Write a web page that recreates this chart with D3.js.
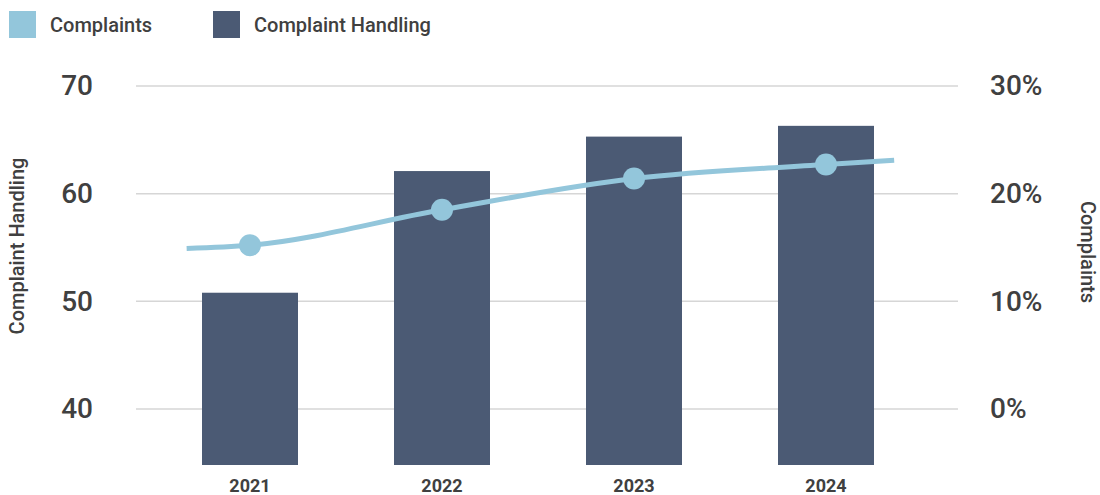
<!DOCTYPE html>
<html>
<head>
<meta charset="utf-8">
<script src="https://cdn.jsdelivr.net/npm/d3@7"></script>
<style>
  body { margin: 0; background: #fff; }
  svg text { font-family: Roboto, "Noto Sans", sans-serif; fill: #404040; }
</style>
</head>
<body>
<div id="chart"></div>
<script>
  const years = ["2021", "2022", "2023", "2024"];
  const handling = [50.8, 62.1, 65.3, 66.3];
  const complaints = [15.2, 18.5, 21.4, 22.7];
  // the line runs a bit past the first and last points
  const complaintsStart = 14.9;
  const complaintsEnd = 23.1;
  const leftTicks = [40, 50, 60, 70];
  const rightTicks = [0, 10, 20, 30];

  const width = 1100, height = 495;
  const barColor = "#4b5a74", lineColor = "#93c6db";

  const svg = d3.select("#chart").append("svg")
    .attr("width", width)
    .attr("height", height);

  const x = d3.scaleBand()
    .domain(years)
    .range([154, 922])
    .paddingInner(0.5)
    .paddingOuter(0.25);

  const yLeft = d3.scaleLinear().domain([34.8, 70]).range([465, 86]);
  const yRight = d3.scaleLinear().domain([0, 30]).range([409, 86]);

  // gridlines
  svg.append("g")
    .selectAll("line")
    .data(leftTicks)
    .join("line")
    .attr("x1", 136).attr("x2", 958)
    .attr("y1", d => yLeft(d)).attr("y2", d => yLeft(d))
    .attr("stroke", "#d6d6d6")
    .attr("stroke-width", 1.5);

  // left axis
  const leftAxis = svg.append("g")
    .attr("transform", "translate(136,0)")
    .call(d3.axisLeft(yLeft).tickValues(leftTicks).tickSize(0).tickPadding(43));
  leftAxis.select(".domain").remove();
  leftAxis.selectAll("text")
    .style("font-size", "28px").style("font-weight", 500).attr("fill", "#404040");

  // right axis
  const rightAxis = svg.append("g")
    .attr("transform", "translate(958,0)")
    .call(d3.axisRight(yRight).tickValues(rightTicks).tickSize(0).tickPadding(32)
      .tickFormat(d => d + "%"));
  rightAxis.select(".domain").remove();
  rightAxis.selectAll("text")
    .style("font-size", "28px").style("font-weight", 500).attr("fill", "#404040");

  // bars
  svg.append("g")
    .selectAll("rect")
    .data(handling)
    .join("rect")
    .attr("x", (d, i) => x(years[i]))
    .attr("width", x.bandwidth())
    .attr("y", d => yLeft(d))
    .attr("height", d => yLeft.range()[0] - yLeft(d))
    .attr("fill", barColor);

  // x labels
  svg.append("g")
    .selectAll("text")
    .data(years)
    .join("text")
    .attr("x", d => x(d) + x.bandwidth() / 2)
    .attr("y", 492)
    .attr("text-anchor", "middle")
    .style("font-size", "18px")
    .style("font-weight", 700)
    .text(d => d);

  // line
  const step = x.step();
  const cx = i => x(years[i]) + x.bandwidth() / 2;
  const linePts = [[cx(0) - step * 0.33, complaintsStart]]
    .concat(complaints.map((d, i) => [cx(i), d]))
    .concat([[cx(complaints.length - 1) + step * 0.355, complaintsEnd]]);

  svg.append("path")
    .datum(linePts)
    .attr("fill", "none")
    .attr("stroke", lineColor)
    .attr("stroke-width", 5)
    .attr("d", d3.line().x(d => d[0]).y(d => yRight(d[1])).curve(d3.curveMonotoneX));

  svg.append("g")
    .selectAll("circle")
    .data(complaints)
    .join("circle")
    .attr("cx", (d, i) => cx(i))
    .attr("cy", d => yRight(d))
    .attr("r", 11)
    .attr("fill", lineColor);

  // axis titles
  svg.append("text")
    .attr("transform", "translate(24,246) rotate(-90)")
    .attr("text-anchor", "middle")
    .style("font-size", "20px").style("font-weight", 500)
    .text("Complaint Handling");

  svg.append("text")
    .attr("transform", "translate(1081,252) rotate(90)")
    .attr("text-anchor", "middle")
    .style("font-size", "20px").style("font-weight", 500)
    .text("Complaints");

  // legend
  const legendItems = [
    { label: "Complaints", color: lineColor, x: 9 },
    { label: "Complaint Handling", color: barColor, x: 213 }
  ];
  const legend = svg.append("g")
    .selectAll("g")
    .data(legendItems)
    .join("g")
    .attr("transform", d => `translate(${d.x},11)`);
  legend.append("rect")
    .attr("width", 27).attr("height", 27)
    .attr("fill", d => d.color);
  legend.append("text")
    .attr("x", 41).attr("y", 21)
    .style("font-size", "20px").style("font-weight", 500)
    .text(d => d.label);
</script>
</body>
</html>
